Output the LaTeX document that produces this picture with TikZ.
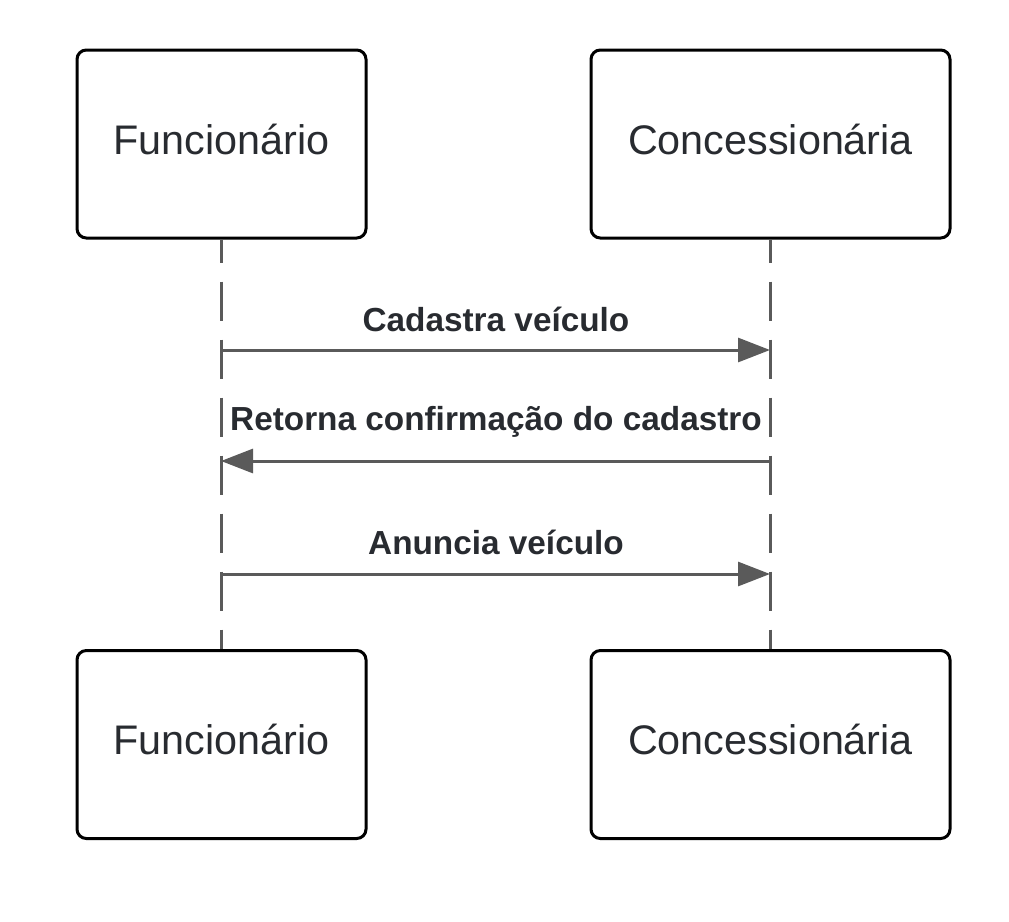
\documentclass[tikz,border=0pt]{standalone}
\usepackage{fontspec}
\setmainfont{Liberation Sans}
\usetikzlibrary{arrows.meta}
\definecolor{txt}{RGB}{40,43,48}
\definecolor{ln}{RGB}{90,90,90}
\begin{document}
\begin{tikzpicture}[x=0.75pt,y=-0.75pt,
  actor/.style={draw=black,line width=2.25pt,rounded corners=7pt,fill=white,minimum width=289*0.75pt,minimum height=188*0.75pt,inner sep=0pt,text=txt},
  actorw/.style={actor,minimum width=359*0.75pt},
  actortext/.style={font=\fontsize{31}{36}\selectfont,text=txt,inner sep=0pt},
  lifeline/.style={draw=ln,line width=2.25pt,dash pattern=on 29.25pt off 14.25pt,dash phase=12pt},
  msg/.style={draw=ln,line width=2.25pt,-{Triangle[length=24pt,width=18pt]}},
  lbl/.style={font=\bfseries\fontsize{25}{30}\selectfont,text=txt,inner sep=0pt}]
\useasboundingbox (0,0) rectangle (1009,921);
\node[actor] (f1) at (221.5,144) {};
\node[actorw] (c1) at (770.5,144) {};
\node[actor] (f2) at (221.5,744.5) {};
\node[actorw] (c2) at (770.5,744.5) {};
\node[actortext] (tf1) at (221.5,139) {Funcionário};
\node[actortext] (tc1) at (770.5,139) {Concessionária};
\node[actortext] (tf2) at (221.5,739.5) {Funcionário};
\node[actortext] (tc2) at (770.5,739.5) {Concessionária};
\draw[lifeline] (f1.south) -- (f2.north);
\draw[lifeline] (c1.south) -- (c2.north);
\coordinate (fa) at (221,350);
\coordinate (ca) at (770,350);
\coordinate (fb) at (221,461);
\coordinate (cb) at (770,461);
\coordinate (fc) at (221,574);
\coordinate (cc) at (770,574);
\draw[msg] (fa) -- (ca);
\draw[msg] (cb) -- (fb);
\draw[msg] (fc) -- (cc);
\node[lbl] (l1) at (496,319) {Cadastra veículo};
\node[lbl] (l2) at (496,422) {Retorna confirmação do cadastro};
\node[lbl] (l3) at (496,542) {Anuncia veículo};
\end{tikzpicture}
\end{document}
